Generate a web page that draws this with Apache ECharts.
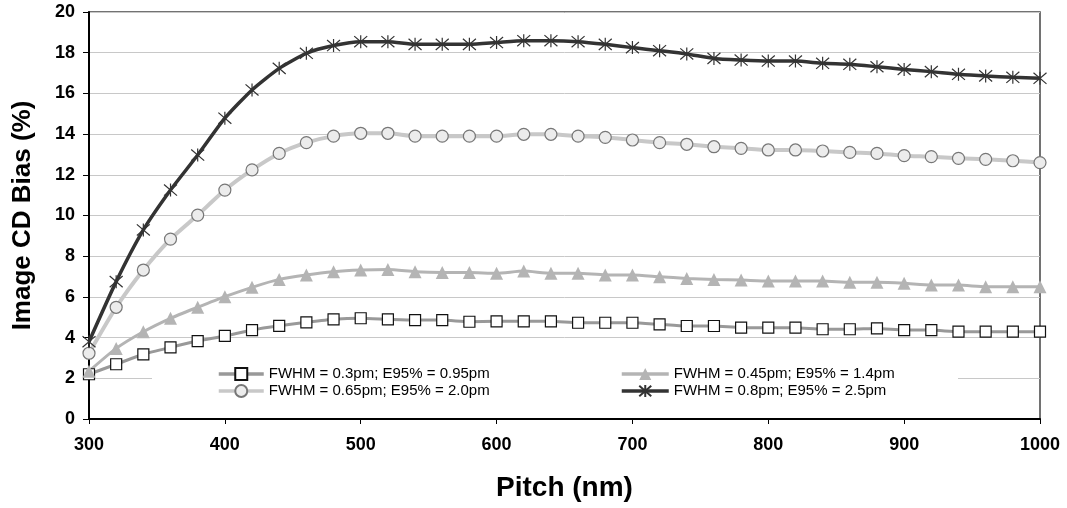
<!DOCTYPE html>
<html>
<head>
<meta charset="utf-8">
<script src="https://cdn.jsdelivr.net/npm/echarts@6/dist/echarts.min.js"></script>
<style>html,body{margin:0;padding:0;background:#fff}#c{width:1067px;height:508px}</style>
</head>
<body>
<div id="c"></div>
<script>
const pitch = [300,320,340,360,380,400,420,440,460,480,500,520,540,560,580,600,620,640,660,680,700,720,740,760,780,800,820,840,860,880,900,920,940,960,980,1000];
const seriesNames = [
  'FWHM = 0.3pm; E95% = 0.95pm',
  'FWHM = 0.45pm; E95% = 1.4pm',
  'FWHM = 0.65pm; E95% = 2.0pm',
  'FWHM = 0.8pm; E95% = 2.5pm'
];
const fwhm030 = [2.2,2.69,3.18,3.52,3.83,4.08,4.37,4.58,4.75,4.9,4.95,4.9,4.86,4.86,4.78,4.8,4.8,4.8,4.73,4.73,4.73,4.65,4.57,4.57,4.49,4.49,4.49,4.41,4.41,4.45,4.37,4.37,4.29,4.29,4.29,4.29];
const fwhm045 = [2.35,3.47,4.29,4.95,5.49,6.01,6.47,6.86,7.08,7.24,7.32,7.35,7.24,7.2,7.2,7.16,7.27,7.16,7.16,7.08,7.08,6.99,6.91,6.86,6.83,6.78,6.78,6.78,6.72,6.72,6.67,6.58,6.58,6.5,6.5,6.5];
const fwhm065 = [3.23,5.49,7.32,8.84,10.02,11.25,12.24,13.05,13.58,13.9,14.04,14.04,13.9,13.9,13.9,13.9,13.99,13.99,13.9,13.84,13.71,13.58,13.5,13.38,13.3,13.22,13.22,13.17,13.1,13.05,12.94,12.89,12.81,12.76,12.69,12.6];
const fwhm080 = [3.8,6.75,9.29,11.25,12.97,14.78,16.17,17.23,17.97,18.35,18.54,18.54,18.41,18.41,18.41,18.5,18.59,18.59,18.54,18.41,18.25,18.1,17.94,17.72,17.64,17.59,17.59,17.48,17.43,17.31,17.18,17.07,16.94,16.86,16.79,16.74];
const xTicks = [300,400,500,600,700,800,900,1000];
const yTicks = [0,2,4,6,8,10,12,14,16,18,20];

function pairs(vals){ return pitch.map((p,i)=>[p, vals[i]]); }
const starPath = 'path://M0,0L12,12M12,0L0,12M6,-1L6,13';
const FONT = "'Liberation Sans', Arial, sans-serif";

const chart = echarts.init(document.getElementById('c'), null, {renderer:'canvas'});
chart.setOption({
  animation: false,
  backgroundColor: '#fff',
  grid: {left: 89, right: 27, top: 12, bottom: 89, show: true, borderColor: '#444', borderWidth: 1.5, backgroundColor: 'transparent'},
  xAxis: {
    type: 'value', min: xTicks[0], max: xTicks[xTicks.length-1], interval: 100,
    name: 'Pitch (nm)', nameLocation: 'middle', nameGap: 55,
    nameTextStyle: {fontFamily: FONT, fontWeight: 'bold', fontSize: 28, color: '#000'},
    axisLine: {lineStyle: {color: '#000', width: 2}},
    axisTick: {show: true, length: 5, lineStyle: {color: '#000', width: 1}},
    axisLabel: {fontFamily: FONT, fontWeight: 'bold', fontSize: 18, color: '#000', margin: 17, formatter: v => String(v)},
    splitLine: {show: false}
  },
  yAxis: {
    type: 'value', min: yTicks[0], max: yTicks[yTicks.length-1], interval: 2,
    name: 'Image CD Bias (%)', nameLocation: 'middle', nameGap: 53,
    nameTextStyle: {fontFamily: FONT, fontWeight: 'bold', fontSize: 26, color: '#000'},
    axisLine: {show: true, lineStyle: {color: '#000', width: 2}},
    axisTick: {show: true, length: 6, lineStyle: {color: '#000', width: 1}},
    axisLabel: {fontFamily: FONT, fontWeight: 'bold', fontSize: 18, color: '#000', margin: 14, formatter: v => String(v)},
    splitLine: {show: true, lineStyle: {color: '#c8c8c8', width: 1}}
  },
  graphic: [{type: 'rect', z: 1, shape: {x: 152, y: 358, width: 806, height: 46}, style: {fill: '#fff'}}],
  legend: [
    {data: [seriesNames[0], seriesNames[2]], orient: 'vertical', left: 217, top: 366, padding: 0, itemGap: 1,
     itemWidth: 45, itemHeight: 15, lineStyle: {width: 3.5},
     textStyle: {fontFamily: FONT, fontSize: 15, color: '#000', lineHeight: 16}},
    {data: [seriesNames[1], seriesNames[3]], orient: 'vertical', left: 620, top: 366, padding: 0, itemGap: 1,
     itemWidth: 47, itemHeight: 15, lineStyle: {width: 3.5},
     textStyle: {fontFamily: FONT, fontSize: 15, color: '#000', lineHeight: 16}}
  ],
  series: [
    {name: seriesNames[0], type: 'line', data: pairs(fwhm030), smooth: 0.2, z: 3,
     symbol: 'rect', symbolSize: 11, showAllSymbol: true,
     lineStyle: {color: '#999', width: 3},
     itemStyle: {color: '#fff', borderColor: '#111', borderWidth: 1.2}},
    {name: seriesNames[1], type: 'line', data: pairs(fwhm045), smooth: 0.2, z: 3,
     symbol: 'triangle', symbolSize: 13, showAllSymbol: true,
     lineStyle: {color: '#b4b4b4', width: 3},
     itemStyle: {color: '#b4b4b4', borderColor: '#b4b4b4', borderWidth: 0}},
    {name: seriesNames[2], type: 'line', data: pairs(fwhm065), smooth: 0.2, z: 3,
     symbol: 'circle', symbolSize: 12, showAllSymbol: true,
     lineStyle: {color: '#c8c8c8', width: 4},
     itemStyle: {color: '#ececec', borderColor: '#777', borderWidth: 1.2}},
    {name: seriesNames[3], type: 'line', data: pairs(fwhm080), smooth: 0.2, z: 4,
     symbol: starPath, symbolSize: 13, showAllSymbol: true,
     lineStyle: {color: '#333', width: 3.5},
     itemStyle: {color: '#333', borderColor: '#333', borderWidth: 1.2}}
  ]
});
</script>
</body>
</html>
